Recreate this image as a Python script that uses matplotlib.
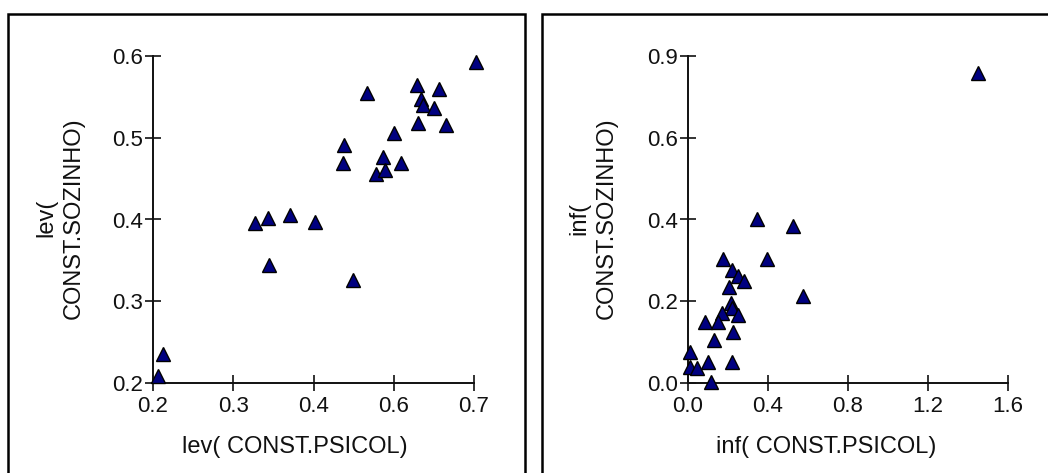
# 필요한 라이브러리 임포트
import matplotlib
matplotlib.use('Agg')
import matplotlib.pyplot as plt
from matplotlib.patches import Rectangle

# 1. 데이터
lev_psicol = [0.703, 0.534, 0.611, 0.646, 0.618, 0.620, 0.637, 0.612, 0.656,
              0.575, 0.498, 0.496, 0.558, 0.586, 0.547, 0.562, 0.359, 0.379,
              0.414, 0.452, 0.380, 0.512, 0.216, 0.208]
lev_sozinho = [0.593, 0.555, 0.564, 0.560, 0.547, 0.540, 0.536, 0.518, 0.516,
               0.506, 0.491, 0.469, 0.477, 0.469, 0.456, 0.461, 0.396, 0.402,
               0.405, 0.397, 0.344, 0.326, 0.235, 0.208]

inf_psicol = [1.452, 0.343, 0.527, 0.397, 0.573, 0.173, 0.218, 0.252, 0.280,
              0.207, 0.213, 0.218, 0.168, 0.252, 0.152, 0.085, 0.227, 0.130,
              0.010, 0.010, 0.043, 0.100, 0.218, 0.113]
inf_sozinho = [0.854, 0.450, 0.433, 0.340, 0.240, 0.340, 0.311, 0.294, 0.281,
               0.265, 0.221, 0.206, 0.192, 0.187, 0.169, 0.169, 0.141, 0.118,
               0.086, 0.045, 0.040, 0.059, 0.059, 0.004]

# 눈금 위치와 라벨 (원본 그래프의 라벨 그대로)
lev_xticks = [0.2, 0.325, 0.45, 0.575, 0.7]
lev_xlabels = ['0.2', '0.3', '0.4', '0.6', '0.7']
lev_yticks = [0.2, 0.3, 0.4, 0.5, 0.6]
lev_ylabels = ['0.2', '0.3', '0.4', '0.5', '0.6']
inf_xticks = [0.0, 0.4, 0.8, 1.2, 1.6]
inf_xlabels = ['0.0', '0.4', '0.8', '1.2', '1.6']
inf_yticks = [0.0, 0.225, 0.45, 0.675, 0.9]
inf_ylabels = ['0.0', '0.2', '0.4', '0.6', '0.9']

W, H = 1048, 473
plt.rcParams['font.family'] = ['Liberation Sans', 'DejaVu Sans']


# 2. 산점도 한 칸 그리는 함수
def draw_panel(fig, rect, xs, ys, xlim, ylim, xticks, xlabels, yticks, ylabels):
    ax = fig.add_axes(rect)
    ax.plot(xs, ys, linestyle='none', marker='^', markersize=10,
            markerfacecolor='#000080', markeredgecolor='black',
            markeredgewidth=1.0, clip_on=False, zorder=5)
    ax.set_xlim(*xlim)
    ax.set_ylim(*ylim)
    ax.set_xticks(xticks)
    ax.set_xticklabels(xlabels)
    ax.set_yticks(yticks)
    ax.set_yticklabels(ylabels)
    for s in ['top', 'right']:
        ax.spines[s].set_visible(False)
    for s in ['left', 'bottom']:
        ax.spines[s].set_linewidth(1.4)
        ax.spines[s].set_color('#111111')
    ax.tick_params(axis='both', direction='inout', length=11, width=1.2,
                   labelsize=16, colors='#111111')
    ax.tick_params(axis='x', pad=4)
    ax.tick_params(axis='y', pad=2)
    ax.patch.set_alpha(0)
    return ax


# 3. 그림 만들기
fig = plt.figure(figsize=(W / 100, H / 100), dpi=100)
fig.patch.set_facecolor('white')

# 3-1. 패널 테두리
for x0, x1 in [(8, 525), (542, 1060)]:
    fig.patches.append(Rectangle((x0 / W, -0.1), (x1 - x0) / W, (H - 14) / H + 0.1,
                                 transform=fig.transFigure, fill=False,
                                 edgecolor='black', linewidth=1.8, zorder=0))

bottom = (H - 383) / H
height = 327 / H

draw_panel(fig, [153 / W, bottom, 321 / W, height], lev_psicol, lev_sozinho,
           (0.2, 0.7), (0.2, 0.6), lev_xticks, lev_xlabels, lev_yticks, lev_ylabels)
draw_panel(fig, [688 / W, bottom, 320 / W, height], inf_psicol, inf_sozinho,
           (0.0, 1.6), (0.0, 0.9), inf_xticks, inf_xlabels, inf_yticks, inf_ylabels)

# 3-2. 축 제목
fig.text(295 / W, (H - 447) / H, 'lev( CONST.PSICOL)', ha='center', va='center',
         fontsize=17, color='#111111')
fig.text(826 / W, (H - 447) / H, 'inf( CONST.PSICOL)', ha='center', va='center',
         fontsize=17, color='#111111')
fig.text(60 / W, (H - 218) / H, 'lev(\nCONST.SOZINHO)', ha='center', va='center',
         rotation=90, multialignment='center', linespacing=1.35,
         fontsize=17, color='#111111')
fig.text(593 / W, (H - 218) / H, 'inf(\nCONST.SOZINHO)', ha='center', va='center',
         rotation=90, multialignment='center', linespacing=1.35,
         fontsize=17, color='#111111')

# 4. 저장
fig.savefig('out.png', dpi=100)
plt.close(fig)
